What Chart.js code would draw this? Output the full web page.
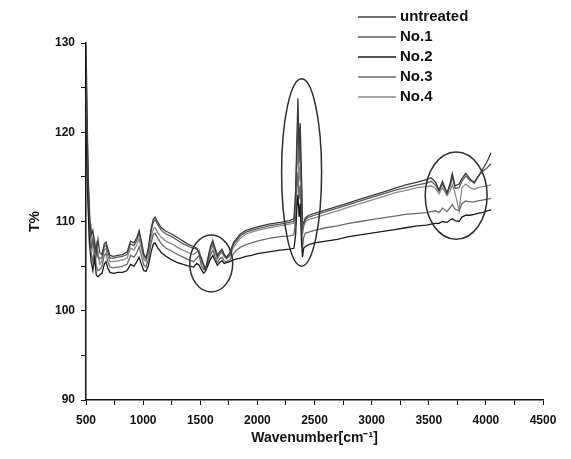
<!DOCTYPE html>
<html>
<head>
<meta charset="utf-8">
<script src="https://cdn.jsdelivr.net/npm/chart.js@4/dist/chart.umd.min.js"></script>
<style>
  html, body { margin: 0; padding: 0; background: #fff; }
  #wrap { width: 571px; height: 459px; }
</style>
</head>
<body>
<div id="wrap"><canvas id="ftir-chart"></canvas></div>
<script>
// wavenumbers (cm-1)
var wavenumbers = [
  500, 510, 520, 530, 545, 560, 575, 590, 605, 620,
  640, 660, 675, 690, 710, 740, 780, 820, 860, 890,
  920, 945, 965, 985, 1005, 1025, 1045, 1070, 1090, 1105,
  1125, 1160, 1200, 1250, 1300, 1350, 1400, 1440, 1470, 1490,
  1510, 1530, 1545, 1565, 1590, 1610, 1630, 1650, 1670, 1690,
  1710, 1730, 1760, 1790, 1820, 1850, 1900, 1950, 2000, 2100,
  2200, 2280, 2320, 2335, 2345, 2355, 2365, 2375, 2385, 2395,
  2405, 2420, 2450, 2500, 2600, 2700, 2800, 2900, 3000, 3100,
  3200, 3300, 3400, 3480, 3520, 3560, 3590, 3620, 3660, 3690,
  3706, 3730, 3766, 3790, 3824, 3860, 3898, 3930, 3970, 4010,
  4045
];

var untreated = [
  129.8, 122, 114, 110.5, 108.5, 109, 107.5, 106.5, 108, 106.5,
  106.3, 107.5, 107.7, 107, 106.2, 106.1, 106.2, 106.3, 106.6, 107.8,
  107.6, 108.2, 109.0, 107.8, 106.4, 105.9, 107.0, 109.2, 110.3, 110.5,
  110.0, 109.3, 108.9, 108.6, 108.2, 107.8, 107.4, 107.2, 107.0, 106.4,
  105.9, 105.2, 104.6, 105.8, 107.2, 107.9, 107.0, 106.2, 106.6, 106.9,
  106.3, 106.0, 106.5, 107.6, 108.1, 108.6, 109.0, 109.2, 109.4, 109.7,
  109.9, 110.1, 110.3, 113.5, 119, 123.8, 118, 121, 116, 110.0,
  109.8, 110.4, 110.7, 110.9, 111.3, 111.7, 112.1, 112.5, 112.9, 113.3,
  113.7, 114.1, 114.4, 114.7, 114.9, 114.4, 113.5, 114.5, 113.2, 114.4,
  115.4, 114.0, 114.2, 114.8, 115.4, 114.8, 114.3, 115.0, 115.8, 116.7,
  117.7
];
var no1 = [
  128.5, 120, 115, 111.5, 107, 108, 106.5, 107.5, 106, 105.8,
  106, 107.2, 107.4, 106.6, 105.9, 105.9, 106, 106.1, 106.3, 107.5,
  107.3, 107.9, 108.7, 107.5, 106.2, 105.8, 106.8, 109.0, 110.0, 110.2,
  109.7, 109.0, 108.6, 108.3, 107.9, 107.5, 107.2, 107.0, 106.9, 106.5,
  105.7, 105.0, 104.5, 105.6, 107.0, 107.6, 106.8, 106.0, 106.5, 106.7,
  106.2, 105.9, 106.3, 107.4, 107.9, 108.4, 108.8, 109.0, 109.2, 109.5,
  109.7, 109.9, 110.0, 112.5, 117.5, 121, 116.5, 118.5, 114, 109.0,
  109.6, 110.2, 110.5, 110.7, 111.1, 111.5, 111.9, 112.3, 112.7, 113.1,
  113.5, 113.8, 114.1, 114.3, 114.5, 114.1, 113.4, 114.2, 113.1, 114.0,
  115.0, 113.7, 113.8, 114.5, 115.1, 114.6, 114.4, 115.0, 115.6, 116.0,
  116.5
];
var no2 = [
  122, 115, 111, 107.5, 105.5, 104.5, 106, 104, 103.8, 104.0,
  104.2, 105.2, 105.5, 104.8, 104.3, 104.2, 104.3, 104.3, 104.5, 105.2,
  105, 105.5, 106.0, 105.2, 104.5, 104.4, 105, 106.6, 107.5, 107.6,
  107.1, 106.5, 106.1, 105.7, 105.4, 105.2, 105.0, 104.9, 105.3, 105.1,
  104.6, 104.2, 104.4, 105.0, 105.8, 106.2, 105.6, 105.1, 105.4, 105.6,
  105.3, 105.4, 105.5, 105.7, 105.8, 105.9, 106.1, 106.2, 106.4, 106.6,
  106.8, 106.9, 107.0, 108.5, 111.5, 113, 110.5, 112, 108, 106.0,
  107.0, 107.2, 107.4, 107.6, 107.8, 108.0, 108.3, 108.5, 108.7, 108.9,
  109.1, 109.3, 109.5, 109.6, 109.7, 109.8, 109.8, 110.0, 109.9, 110.2,
  110.3, 110.1, 110.0, 110.5, 110.7, 110.7, 110.8, 110.9, 111.0, 111.2,
  111.3
];
var no3 = [
  125, 117, 112, 108, 106.5, 105.5, 107, 105, 104.5, 104.6,
  105, 106.2, 106.4, 105.6, 104.9, 104.8, 104.9, 105, 105.2, 106.2,
  106, 106.5, 107.2, 106.2, 105.1, 104.9, 105.7, 107.6, 108.6, 108.7,
  108.2, 107.5, 107.0, 106.7, 106.3, 106.0, 105.7, 105.5, 105.9, 106.2,
  105.0, 104.6, 104.8, 105.2, 106.3, 106.8, 106.0, 105.4, 105.8, 106.0,
  105.6, 105.5, 105.7, 106.4, 106.8, 107.1, 107.4, 107.6, 107.8, 108.1,
  108.3, 108.4, 108.5, 110.5, 113.5, 115.5, 112.5, 114, 110, 107.0,
  108.2, 108.7, 108.8, 109.0, 109.3, 109.5, 109.8, 110.0, 110.2, 110.4,
  110.6, 110.8, 110.9, 111.0, 111.1, 111.2, 111.0, 111.5, 111.1, 111.6,
  111.9, 111.4, 111.2, 112.0, 112.3, 112.2, 112.2, 112.3, 112.4, 112.5,
  112.6
];
var no4 = [
  127, 119, 113, 109, 109.5, 107, 108, 106, 106.5, 105.2,
  105.6, 106.8, 107, 106.2, 105.5, 105.5, 105.6, 105.7, 105.9, 107.0,
  106.8, 107.4, 108.1, 107.0, 105.8, 105.5, 106.4, 108.3, 109.2, 109.3,
  108.8, 108.2, 107.8, 107.5, 107.1, 106.8, 106.5, 106.3, 106.6, 106.8,
  105.6, 105.0, 104.6, 105.4, 106.8, 107.3, 106.5, 105.8, 106.3, 106.5,
  106.0, 105.8, 106.1, 107.1, 107.6, 108.1, 108.6, 108.8, 109.0, 109.3,
  109.5, 109.7, 109.8, 112, 116, 118, 114.5, 116.5, 112.5, 108.5,
  109.4, 110.0, 110.2, 110.4, 110.8, 111.2, 111.6, 112.0, 112.4, 112.8,
  113.2, 113.5, 113.8, 113.9, 114.0, 113.7, 113.1, 113.8, 112.9, 113.5,
  114.1, 113.2, 111.2, 113.8, 114.2, 113.8, 113.6, 113.8, 113.9, 114.0,
  114.1
];

var seriesNames = ["untreated", "No.1", "No.2", "No.3", "No.4"];
var seriesValues = [untreated, no1, no2, no3, no4];
var seriesColors = ["#3c3c3c", "#5c5c5c", "#1a1a1a", "#6a6a6a", "#8a8a8a"];

// highlighted regions (data units): centre x, centre y, half width, half height
var circleCx = [1596, 2387, 3740];
var circleCy = [105.3, 115.5, 112.9];
var circleRx = [188, 175, 271];
var circleRy = [3.2, 10.5, 4.9];

var FONT = "'Liberation Sans', Arial, sans-serif";

function toPoints(values) {
  return wavenumbers.map(function (w, i) { return { x: w, y: values[i] }; });
}

var datasets = seriesNames.map(function (name, i) {
  return {
    label: name,
    data: toPoints(seriesValues[i]),
    borderColor: seriesColors[i],
    borderWidth: 1.3,
    pointRadius: 0,
    tension: 0,
    fill: false
  };
});

var ellipsePlugin = {
  id: "ellipses",
  afterDatasetsDraw: function (chart) {
    var ctx = chart.ctx, x = chart.scales.x, y = chart.scales.y;
    ctx.save();
    ctx.strokeStyle = "#2e2e2e";
    ctx.lineWidth = 1.5;
    for (var i = 0; i < circleCx.length; i++) {
      var px = x.getPixelForValue(circleCx[i]);
      var py = y.getPixelForValue(circleCy[i]);
      var rx = Math.abs(x.getPixelForValue(circleCx[i] + circleRx[i]) - px);
      var ry = Math.abs(y.getPixelForValue(circleCy[i] + circleRy[i]) - py);
      ctx.beginPath();
      ctx.ellipse(px, py, rx, ry, 0, 0, Math.PI * 2);
      ctx.stroke();
    }
    ctx.restore();
  }
};

var legendPlugin = {
  id: "sideLegend",
  afterDraw: function (chart) {
    var ctx = chart.ctx;
    ctx.save();
    ctx.font = "bold 15px " + FONT;
    ctx.textBaseline = "middle";
    ctx.fillStyle = "#111";
    chart.data.datasets.forEach(function (ds, i) {
      var ly = 17 + i * 20;
      ctx.strokeStyle = ds.borderColor;
      ctx.lineWidth = 1.3;
      ctx.beginPath();
      ctx.moveTo(358, ly);
      ctx.lineTo(396, ly);
      ctx.stroke();
      ctx.fillText(ds.label, 400, ly);
    });
    ctx.restore();
  }
};

new Chart(document.getElementById("ftir-chart").getContext("2d"), {
  type: "line",
  data: { datasets: datasets },
  plugins: [ellipsePlugin, legendPlugin],
  options: {
    responsive: true,
    maintainAspectRatio: false,
    animation: false,
    layout: { padding: { left: 0, right: 28, top: 43, bottom: 0 } },
    plugins: {
      legend: { display: false },
      tooltip: { enabled: false }
    },
    scales: {
      x: {
        type: "linear",
        min: 500,
        max: 4500,
        afterFit: function (scale) { scale.height = 59; },
        border: { color: "#111", width: 1.5 },
        grid: { drawOnChartArea: false, drawTicks: true, tickLength: 5, color: "#111" },
        ticks: {
          stepSize: 250,
          autoSkip: false,
          maxRotation: 0,
          padding: 8,
          color: "#111",
          font: { family: FONT, size: 12, weight: "bold" },
          callback: function (v) { return v % 500 === 0 ? v : ""; }
        },
        title: {
          display: true,
          text: "Wavenumber[cm\u207B\u00B9]",
          color: "#111",
          padding: { top: 0, bottom: 12 },
          font: { family: FONT, size: 14, weight: "bold" }
        }
      },
      y: {
        min: 90,
        max: 130,
        afterFit: function (scale) { scale.width = 86; },
        border: { color: "#111", width: 1.5 },
        grid: { drawOnChartArea: false, drawTicks: true, tickLength: 5, color: "#111" },
        ticks: {
          stepSize: 5,
          autoSkip: false,
          padding: 6,
          color: "#111",
          font: { family: FONT, size: 12, weight: "bold" },
          callback: function (v) { return v % 10 === 0 ? v : ""; }
        },
        title: {
          display: true,
          text: "T%",
          color: "#111",
          padding: { top: 27, bottom: 0 },
          font: { family: FONT, size: 14, weight: "bold" }
        }
      }
    }
  }
});
</script>
</body>
</html>
